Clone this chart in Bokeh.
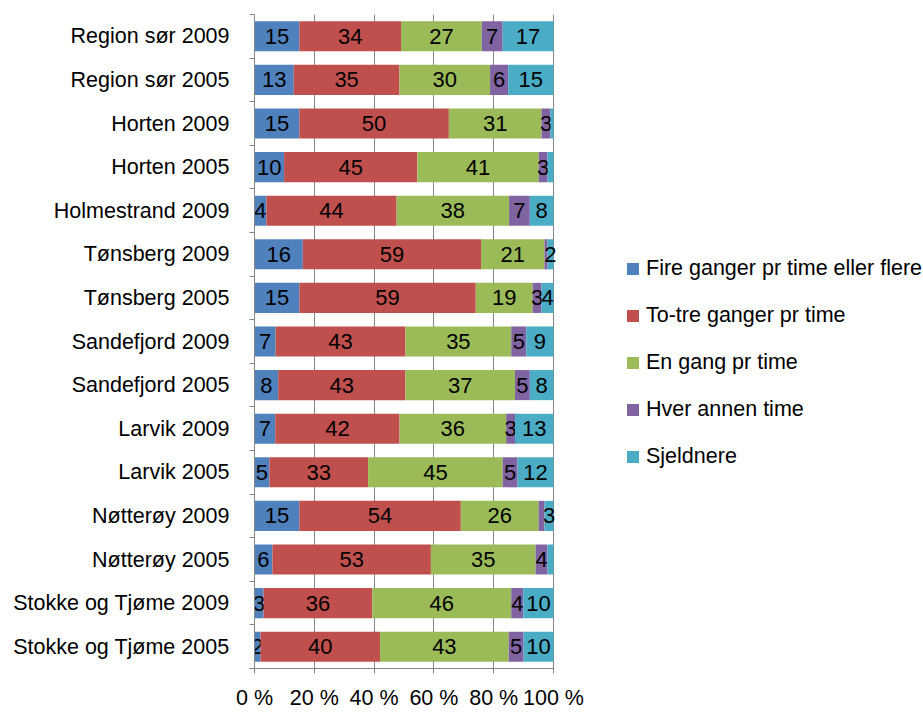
from bokeh.plotting import figure
from bokeh.models import ColumnDataSource, Range1d, FixedTicker, Legend, LegendItem
from bokeh.core.properties import value
from bokeh.embed import file_html
from bokeh.resources import INLINE

rows = ["Region sør 2009", "Region sør 2005", "Horten 2009", "Horten 2005",
        "Holmestrand 2009", "Tønsberg 2009", "Tønsberg 2005", "Sandefjord 2009",
        "Sandefjord 2005", "Larvik 2009", "Larvik 2005", "Nøtterøy 2009",
        "Nøtterøy 2005", "Stokke og Tjøme 2009", "Stokke og Tjøme 2005"]

series_names = ["Fire ganger pr time eller flere", "To-tre ganger pr time",
                "En gang pr time", "Hver annen time", "Sjeldnere"]
fire = [15, 13, 15, 10, 4, 16, 15, 7, 8, 7, 5, 15, 6, 3, 2]
totre = [34, 35, 50, 45, 44, 59, 59, 43, 43, 42, 33, 54, 53, 36, 40]
engang = [27, 30, 31, 41, 38, 21, 19, 35, 37, 36, 45, 26, 35, 46, 43]
hver = [7, 6, 3, 3, 7, 1, 3, 5, 5, 3, 5, 2, 4, 4, 5]
sjeld = [17, 15, 1, 2, 8, 2, 4, 9, 8, 13, 12, 3, 2, 10, 10]
# segments whose value label is not shown in the original (row, series index)
unlabeled = [("Horten 2009", 4), ("Horten 2005", 4), ("Tønsberg 2009", 3),
             ("Nøtterøy 2009", 3), ("Nøtterøy 2005", 4)]

colors = ["#4F81BD", "#C0504D", "#9BBB59", "#8064A2", "#4BACC6"]
x_ticks = [0, 20, 40, 60, 80, 100]

FONT = "Liberation Sans"
series = [fire, totre, engang, hver, sjeld]
n = len(rows)
ypos = [n - 0.5 - i for i in range(n)]
totals = [sum(s[i] for s in series) for i in range(n)]

W, H = 922, 712
LEFT, TOP, BOTTOM = 254, 14, 43
BAR_W = 299                      # pixel width of the 0-100 % span
frame_w = W - LEFT
x_end = 100 * frame_w / BAR_W    # frame also hosts the legend on the right

p = figure(width=W, height=H, output_backend="svg", toolbar_location=None,
           x_range=Range1d(0, x_end), y_range=Range1d(0, n),
           min_border_left=LEFT, min_border_right=0, min_border_top=TOP,
           min_border_bottom=BOTTOM)
p.outline_line_color = None
p.background_fill_color = "white"
p.ygrid.grid_line_color = None
p.xgrid.grid_line_color = "#868686"
p.xgrid.ticker = FixedTicker(ticks=x_ticks)

cum = [0.0] * n
items = []
for k, (name, vals, col) in enumerate(zip(series_names, series, colors)):
    left = [cum[i] for i in range(n)]
    right = [cum[i] + vals[i] / totals[i] * 100 for i in range(n)]
    cum = right
    labs = []
    for i in range(n):
        labs.append("" if (rows[i], k) in unlabeled else str(vals[i]))
    src = ColumnDataSource(dict(y=ypos, left=left, right=right,
                                xc=[(a + b) / 2 for a, b in zip(left, right)],
                                lab=labs))
    r = p.hbar(y="y", left="left", right="right", height=0.69, source=src,
               fill_color=col, line_color=None)
    p.text(x="xc", y="y", text="lab", source=src, text_align="center",
           text_baseline="middle", text_font=value(FONT), text_font_size="22px",
           text_color="black")
    items.append(LegendItem(label=name, renderers=[r]))

legend = Legend(items=items, location=(371, 199), border_line_color=None,
                background_fill_alpha=0, padding=0, margin=0, spacing=22,
                glyph_width=15, glyph_height=15, label_height=24,
                label_standoff=6, label_text_font=FONT,
                label_text_font_size="21.5px", label_text_color="black")
p.add_layout(legend)

# x axis
xa = p.xaxis[0]
xa.ticker = FixedTicker(ticks=x_ticks)
xa.bounds = (x_ticks[0], x_ticks[-1])
xa.major_label_overrides = {t: f"{t} %" for t in x_ticks}
xa.axis_line_color = "#868686"
xa.major_tick_line_color = "#868686"
xa.major_tick_in = 0
xa.major_tick_out = 5
xa.minor_tick_line_color = None
xa.major_label_standoff = 12
xa.major_label_text_font = FONT
xa.major_label_text_font_size = "21.5px"
xa.major_label_text_color = "black"

# y axis
ya = p.yaxis[0]
ya.ticker = FixedTicker(ticks=ypos, minor_ticks=list(range(n + 1)))
ya.major_label_overrides = {y: r for y, r in zip(ypos, rows)}
ya.axis_line_color = "#868686"
ya.major_tick_line_color = None
ya.minor_tick_line_color = "#868686"
ya.minor_tick_in = 0
ya.minor_tick_out = 5
ya.major_label_standoff = 19
ya.major_label_text_font = FONT
ya.major_label_text_font_size = "21.5px"
ya.major_label_text_color = "black"

open("out.html", "w").write(file_html(p, INLINE))
